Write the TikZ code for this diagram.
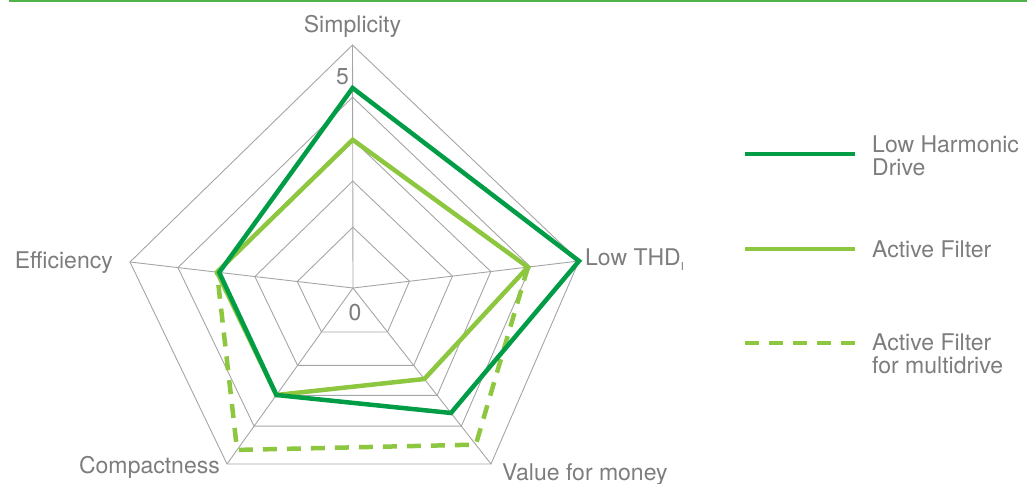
\documentclass[tikz,border=0pt]{standalone}
\usepackage{fontspec}
\setmainfont{TeX Gyre Heros}
\usepackage{tikz}
\usetikzlibrary{calc}
\definecolor{darkgreen}{RGB}{0,156,70}
\definecolor{lightgreen}{RGB}{141,198,63}
\definecolor{topgreen}{RGB}{80,178,72}
\definecolor{gridgray}{RGB}{165,165,165}
\definecolor{textgray}{RGB}{125,125,125}

\begin{document}
\begin{tikzpicture}[x=1pt,y=-1pt,grid/.style={draw=gridgray, line width=0.9pt},lhd/.style={draw=darkgreen, line width=4.5pt},af/.style={draw=lightgreen, line width=4.5pt},afm/.style={draw=lightgreen, line width=4.5pt, dash pattern=on 14pt off 10pt},lbl/.style={text=textgray, font=\fontsize{23}{23}\selectfont, inner sep=0pt}]
	
	\useasboundingbox (0,0) rectangle (1027,484);
	\draw[topgreen, line width=2pt] (9,1) -- (1027,1);
	
	% axes
	\coordinate (c) at (353,288);
	\coordinate (aS) at (352.5,45);
	\coordinate (aT) at (579,261);
	\coordinate (aV) at (491,464);
	\coordinate (aC) at (227,464);
	\coordinate (aE) at (130,262);
	
	\foreach \f in {0.25,0.44,0.61,0.785,1}
		\draw[grid] ($(c)!\f!(aS)$) -- ($(c)!\f!(aT)$) -- ($(c)!\f!(aV)$) -- ($(c)!\f!(aC)$) -- ($(c)!\f!(aE)$) -- cycle;
	\foreach \a in {aS,aT,aV,aC,aE}
		\draw[grid] (c) -- (\a);
	
	% data
	\draw[afm] ($(c)!0.774!(aT)$) -- ($(c)!0.89!(aV)$) -- ($(c)!0.92!(aC)$) -- ($(c)!0.61!(aE)$);
	\draw[af] ($(c)!0.61!(aS)$) -- ($(c)!0.774!(aT)$) -- ($(c)!0.517!(aV)$) -- ($(c)!0.608!(aC)$) -- ($(c)!0.61!(aE)$) -- cycle;
	\draw[lhd] ($(c)!0.823!(aS)$) -- ($(c)!1!(aT)$) -- ($(c)!0.71!(aV)$) -- ($(c)!0.608!(aC)$) -- ($(c)!0.60!(aE)$) -- cycle;
	
	% labels
	\node[lbl, anchor=base] (lS) at (352.5,33) {Simplicity};
	\node[lbl, anchor=base west] (lT) at (585,265) {Low THD\raisebox{-0.45ex}{\fontsize{11}{11}\selectfont I}};
	\node[lbl, anchor=base west] (lV) at (502,480) {Value for money};
	\node[lbl, anchor=base east] (lC) at (220,473) {Compactness};
	\node[lbl, anchor=base east] (lE) at (113,268) {Efficiency};
	\node[lbl, anchor=base] (max) at (342.5,85) {5};
	\node[lbl, anchor=base] (min) at (355,320) {0};
	
	% legend
	\coordinate (k1) at (745,154);
	\coordinate (k2) at (745,249);
	\coordinate (k3) at (745,343);
	\draw[lhd] (k1) -- ++(110,0);
	\draw[af] (k2) -- ++(110,0);
	\draw[afm] (k3) -- ++(110,0);
	\node[lbl, anchor=base west, align=left] (t1) at (872,175) {Low Harmonic\\Drive};
	\node[lbl, anchor=base west, align=left] (t2) at (872,257) {Active Filter};
	\node[lbl, anchor=base west, align=left] (t3) at (872,373) {Active Filter\\for multidrive};
\end{tikzpicture}
\end{document}
